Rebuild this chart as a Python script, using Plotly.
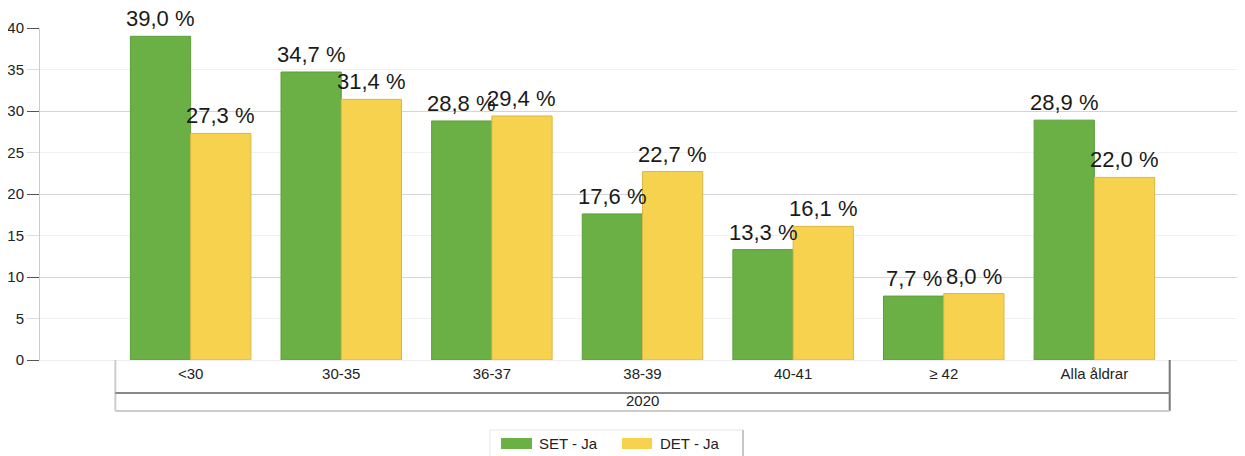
import plotly.graph_objects as go

categories = ["<30", "30-35", "36-37", "38-39", "40-41", "≥ 42", "Alla åldrar"]
set_vals = [39.0, 34.7, 28.8, 17.6, 13.3, 7.7, 28.9]
det_vals = [27.3, 31.4, 29.4, 22.7, 16.1, 8.0, 22.0]
series_names = ["SET - Ja", "DET - Ja"]
group_label = "2020"
y_ticks = [0, 5, 10, 15, 20, 25, 30, 35, 40]

GREEN = "#6AB045"
YELLOW = "#F6D24F"
FONT = "Liberation Sans, Arial, sans-serif"


def fmt(v):
    return f"{v:.1f}".replace(".", ",") + " %"


fig = go.Figure()
series = [
    (series_names[0], set_vals, GREEN, "#5E9E3C", -30),
    (series_names[1], det_vals, YELLOW, "#D9B746", 30),
]
annotations = []
for name, vals, col, edge, shift in series:
    fig.add_trace(go.Bar(
        x=categories, y=vals, name=name,
        marker=dict(color=col, line=dict(color=edge, width=1)),
        showlegend=False,
    ))
    for c, v in zip(categories, vals):
        annotations.append(dict(
            text=fmt(v), x=c, y=v, xref="x", yref="y", showarrow=False,
            xanchor="center", yanchor="bottom", xshift=shift, yshift=4,
            borderpad=0,
            font=dict(size=22, color="#1a1a1a", family=FONT),
        ))

# The page body has an 8px margin, so the figure is 8px smaller and margins shifted.
fig.update_layout(
    width=1237, height=448,
    margin=dict(l=32, r=0, t=20, b=96, autoexpand=False),
    paper_bgcolor="white", plot_bgcolor="white",
    barmode="group", bargap=0.2, bargroupgap=0,
    font=dict(family=FONT, size=15, color="#333"),
    xaxis=dict(
        type="category", categoryorder="array", categoryarray=categories,
        range=[-1, 7], showgrid=False, showline=True, linecolor="#eeeeee",
        linewidth=1, ticks="", tickfont=dict(size=15, color="#222"),
        zeroline=False,
    ),
    yaxis=dict(
        range=[0, 40], tickvals=y_ticks, showgrid=True, gridcolor="#f1f1f1",
        ticks="outside", ticklen=12, tickcolor="#dddddd",
        showline=True, linecolor="#cccccc", zeroline=False,
        tickfont=dict(size=15, color="#222"),
    ),
    yaxis2=dict(
        range=[0, 40], overlaying="y", dtick=10, showgrid=True,
        gridcolor="#d4d4da", ticks="outside", ticklen=12, tickcolor="#555",
        showticklabels=False, zeroline=False, side="left",
    ),
)

shapes = []
line_light = dict(color="#cccccc", width=2)
line_dark = dict(color="#888888", width=2)
# category table
shapes.append(dict(type="line", xref="x", yref="paper", x0=-0.5, x1=-0.5, y0=0, y1=-0.1536, line=line_light))
shapes.append(dict(type="line", xref="x", yref="paper", x0=6.5, x1=6.5, y0=0, y1=-0.1536, line=dict(color="#777777", width=2)))
shapes.append(dict(type="line", xref="x", yref="paper", x0=-0.5, x1=6.5, y0=-0.0994, y1=-0.0994, line=line_dark))
shapes.append(dict(type="line", xref="x", yref="paper", x0=-0.5, x1=6.5, y0=-0.1536, y1=-0.1536, line=line_light))

# custom legend
shapes.append(dict(type="rect", xref="paper", yref="paper", x0=0.3734, x1=0.5834, y0=-0.2108, y1=-0.32,
                   line=dict(color="#e6e6e6", width=1), fillcolor="white", layer="below"))
shapes.append(dict(type="line", xref="paper", yref="paper", x0=0.5834, x1=0.5834, y0=-0.2108, y1=-0.32,
                   line=dict(color="#999999", width=1)))
swatches = [(0.3826, 0.4083, GREEN), (0.4830, 0.5079, YELLOW)]
for (x0, x1, c) in swatches:
    shapes.append(dict(type="rect", xref="paper", yref="paper", x0=x0, x1=x1, y0=-0.2349, y1=-0.2681,
                       line=dict(width=0), fillcolor=c))

annotations += [
    dict(text=group_label, xref="x", yref="paper", x=3, y=-0.1205, showarrow=False,
         font=dict(size=15, color="#222"), xanchor="center", yanchor="middle"),
    dict(text=series_names[0], xref="paper", yref="paper", x=0.4141, y=-0.25, showarrow=False,
         font=dict(size=15, color="#222"), xanchor="left", yanchor="middle", xshift=-2),
    dict(text=series_names[1], xref="paper", yref="paper", x=0.5145, y=-0.25, showarrow=False,
         font=dict(size=15, color="#222"), xanchor="left", yanchor="middle", xshift=-2),
]
fig.update_layout(shapes=shapes, annotations=annotations)

# invisible helper so the overlaid axis draws the darker major grid
fig.add_trace(go.Scatter(x=[categories[0]], y=[0], yaxis="y2", mode="markers",
                         marker=dict(opacity=0), showlegend=False, hoverinfo="skip"))

fig.write_html("out.html")
